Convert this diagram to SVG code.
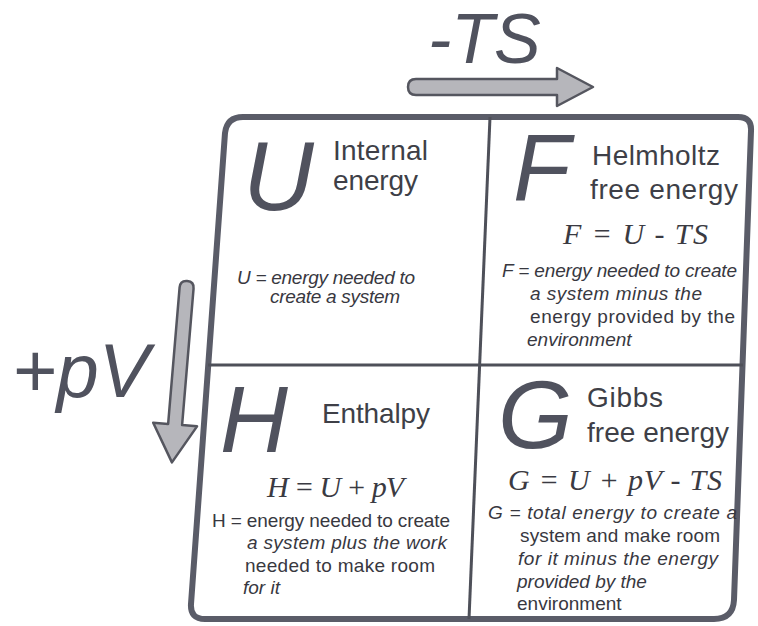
<svg xmlns="http://www.w3.org/2000/svg" width="758" height="626" viewBox="0 0 758 626">
<style>
.big{font-family:"Liberation Sans",Arial,sans-serif;font-style:italic;fill:#50525e}
.ttl{font-family:"Liberation Sans",Arial,sans-serif;font-size:28px;fill:#3e3f47}
.eq{font-family:"Liberation Serif","Times New Roman",serif;font-style:italic;font-size:30px;fill:#3a3a42}
.d{font-family:"Liberation Sans",Arial,sans-serif;font-size:19px;fill:#38383f}
.i{font-style:italic}
.lab{font-family:"Liberation Sans",Arial,sans-serif;font-style:italic;fill:#50525e}
.arr{fill:#b6b6bb;stroke:#55565f;stroke-width:2.5;stroke-linejoin:round}
.frame{fill:#fff;stroke:#5a5c68;stroke-width:6;stroke-linejoin:round}
.div{stroke:#4e5059;stroke-width:3;fill:none}
</style>
<rect width="758" height="626" fill="#ffffff"/>
<g id="frame">
<path class="frame" d="M243,117 L738,117 Q752,117 751,131 L734,600 Q733,619 714,619 L205,619 Q190,619 191,604 L225,133 Q227,117 243,117 Z"/>
<line class="div" x1="208" y1="365" x2="743" y2="365"/>
<line class="div" x1="490" y1="117" x2="469" y2="619"/>
</g>
<g id="connectors">
<path class="arr" d="M416,79 L557,79 L557,68 L593,87 L557,106 L557,95 L416,95 Q408,95 408,87 Q408,79 416,79 Z"/>
<path class="arr" transform="translate(187,283) rotate(4.8)" d="M-7,5 Q-7,-2 0,-2 Q7,-2 7,5 L7,142 L22,142 L0,180 L-22,142 L-7,142 Z"/>
</g>
<g id="label-TS"><text class="lab" x="428" y="63" font-size="70">-TS</text></g>
<g id="label-pV"><text class="lab" x="12" y="397" font-size="76">+pV</text></g>
<g id="node-U">
<text class="big" x="243" y="210" font-size="98">U</text>
<text class="ttl" x="333" y="160" textLength="95">Internal</text>
<text class="ttl" x="333" y="190" textLength="85">energy</text>
<text class="d i" x="237" y="284" textLength="178">U = energy needed to</text>
<text class="d i" x="270" y="303" textLength="130">create a system</text>
</g>
<g id="node-F">
<text class="big" x="513" y="200" font-size="94">F</text>
<text class="ttl" x="592" y="165" textLength="128">Helmholtz</text>
<text class="ttl" x="590" y="199" textLength="148">free energy</text>
<text class="eq" x="563" y="244" textLength="145">F = U - TS</text>
<text class="d i" x="502" y="277" textLength="235">F = energy needed to create</text>
<text class="d i" x="530" y="300" textLength="172">a system minus the</text>
<text class="d" x="530" y="323" textLength="205">energy provided by the</text>
<text class="d i" x="527" y="346">environment</text>
</g>
<g id="node-H">
<text class="big" x="220" y="452" font-size="94">H</text>
<text class="ttl" x="322" y="423" textLength="108">Enthalpy</text>
<text class="eq" x="267" y="497" textLength="137">H = U + pV</text>
<text class="d" x="212" y="527" textLength="238">H = energy needed to create</text>
<text class="d i" x="247" y="549" textLength="200">a system plus the work</text>
<text class="d" x="245" y="572" textLength="190">needed to make room</text>
<text class="d i" x="243" y="594">for it</text>
</g>
<g id="node-G">
<text class="big" x="498" y="448" font-size="96">G</text>
<text class="ttl" x="587" y="407" textLength="76">Gibbs</text>
<text class="ttl" x="587" y="442" textLength="142">free energy</text>
<text class="eq" x="508" y="490" textLength="214">G = U + pV - TS</text>
<text class="d i" x="488" y="519" textLength="249">G = total energy to create a</text>
<text class="d" x="520" y="542" textLength="200">system and make room</text>
<text class="d i" x="518" y="565" textLength="200">for it minus the energy</text>
<text class="d i" x="517" y="588">provided by the</text>
<text class="d" x="517" y="610">environment</text>
</g>
</svg>
